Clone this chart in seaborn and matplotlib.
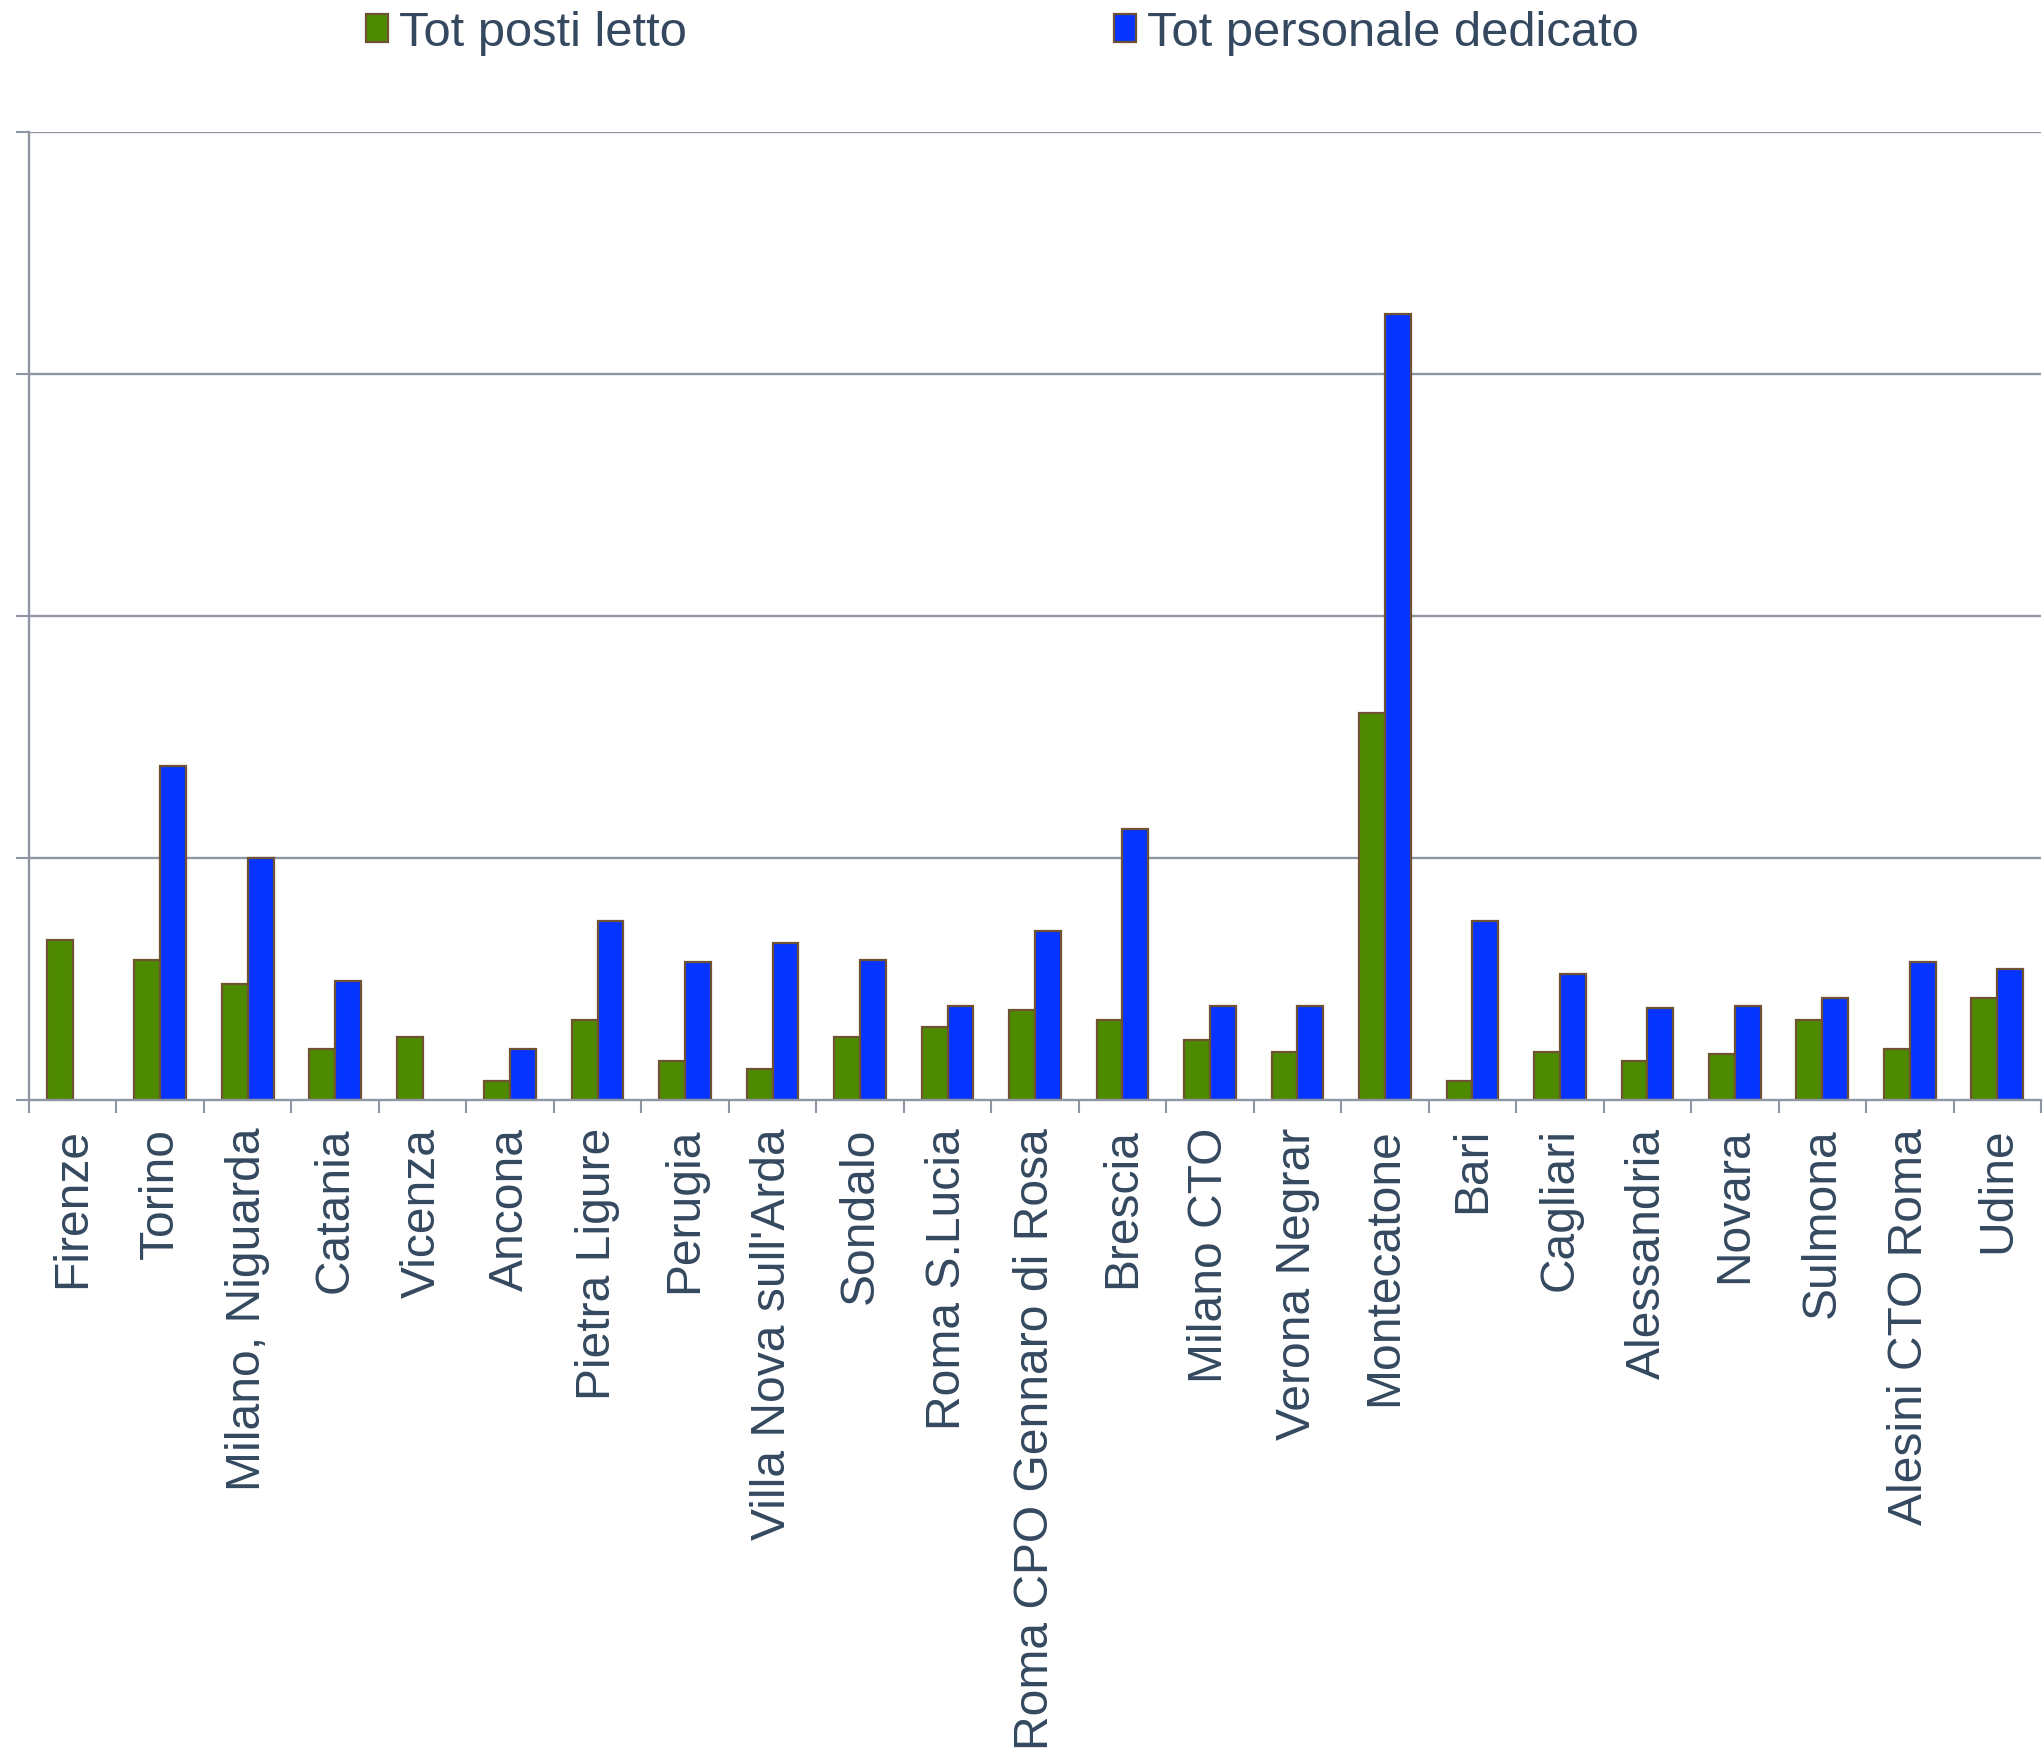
import numpy as np
import pandas as pd
import matplotlib
matplotlib.use("Agg")
import matplotlib.pyplot as plt
from matplotlib.patches import Patch
from matplotlib.ticker import FixedLocator
import seaborn as sns

categories = ["Firenze", "Torino", "Milano, Niguarda", "Catania", "Vicenza", "Ancona",
              "Pietra Ligure", "Perugia", "Villa Nova sull'Arda", "Sondalo", "Roma S.Lucia",
              "Roma CPO Gennaro di Rosa", "Brescia", "Milano CTO", "Verona Negrar",
              "Montecatone", "Bari", "Cagliari", "Alessandria", "Novara", "Sulmona",
              "Alesini CTO Roma", "Udine"]
posti_letto = [33, 29, 24, 10.5, 13, 4, 16.5, 8, 6.5, 13, 15, 18.5, 16.5, 12.5, 10,
               80, 4, 10, 8, 9.5, 16.5, 10.5, 21]
personale = [np.nan, 69, 50, 24.5, np.nan, 10.5, 37, 28.5, 32.5, 29, 19.5, 35, 56, 19.5, 19.5,
             162.5, 37, 26, 19, 19.5, 21, 28.5, 27]
series_names = ["Tot posti letto", "Tot personale dedicato"]
y_gridlines = [0, 50, 100, 150, 200]

colors = {"Tot posti letto": "#4E8A00", "Tot personale dedicato": "#0533FF"}
edge = "#6E5232"
text_color = "#34495F"
grid_color = "#8D96A2"

df = pd.DataFrame({
    "Sede": categories * 2,
    "Valore": posti_letto + personale,
    "Serie": [series_names[0]] * len(categories) + [series_names[1]] * len(categories),
})

sns.set_theme(style="white")
plt.rcParams["font.family"] = ["Liberation Sans", "DejaVu Sans"]

fig = plt.figure(figsize=(20.44, 17.52), dpi=100)
ax = fig.add_axes([29 / 2044, 1 - 1100 / 1752, 2012 / 2044, 968 / 1752])

sns.barplot(data=df, x="Sede", y="Valore", hue="Serie", order=categories,
            hue_order=series_names, palette=colors, edgecolor=edge, linewidth=1.6,
            width=0.59, gap=0, dodge=True, legend=False, ax=ax, errorbar=None, saturation=1)

ax.set_xlim(-0.5, len(categories) - 0.5)
ax.set_ylim(0, 200)
ax.set_xlabel("")
ax.set_ylabel("")

# gridlines
ax.yaxis.set_major_locator(FixedLocator(y_gridlines))
ax.set_yticklabels([])
ax.grid(False)
for yv in y_gridlines[1:]:
    ax.axhline(yv, color=grid_color, lw=1.7, zorder=0.5)

for s in ["top", "right"]:
    ax.spines[s].set_visible(False)
for s in ["left", "bottom"]:
    ax.spines[s].set_visible(True)
    ax.spines[s].set_color(grid_color)
    ax.spines[s].set_linewidth(1.7)

ax.tick_params(axis="y", which="major", left=True, length=9.5, width=1.5,
               color=grid_color, direction="out")
ax.tick_params(axis="x", which="major", length=0, pad=20, labelsize=34.6,
               labelcolor=text_color, labelrotation=90)
ax.xaxis.set_minor_locator(FixedLocator(np.arange(-0.5, len(categories), 1.0)))
ax.tick_params(axis="x", which="minor", bottom=True, length=9.5, width=1.5,
               color=grid_color, direction="out")

handles = [Patch(facecolor=colors[n], edgecolor=edge, linewidth=1.6, label=n) for n in series_names]
fig.legend(handles=handles, loc="center left", bbox_to_anchor=(366 / 2044, 1 - 33 / 1752),
           ncol=2, frameon=False, fontsize=35.2, labelcolor=text_color,
           handlelength=0.45, handleheight=0.5, handletextpad=0.22,
           columnspacing=8.75, borderpad=0, borderaxespad=0)

fig.savefig("out.png", dpi=100)
